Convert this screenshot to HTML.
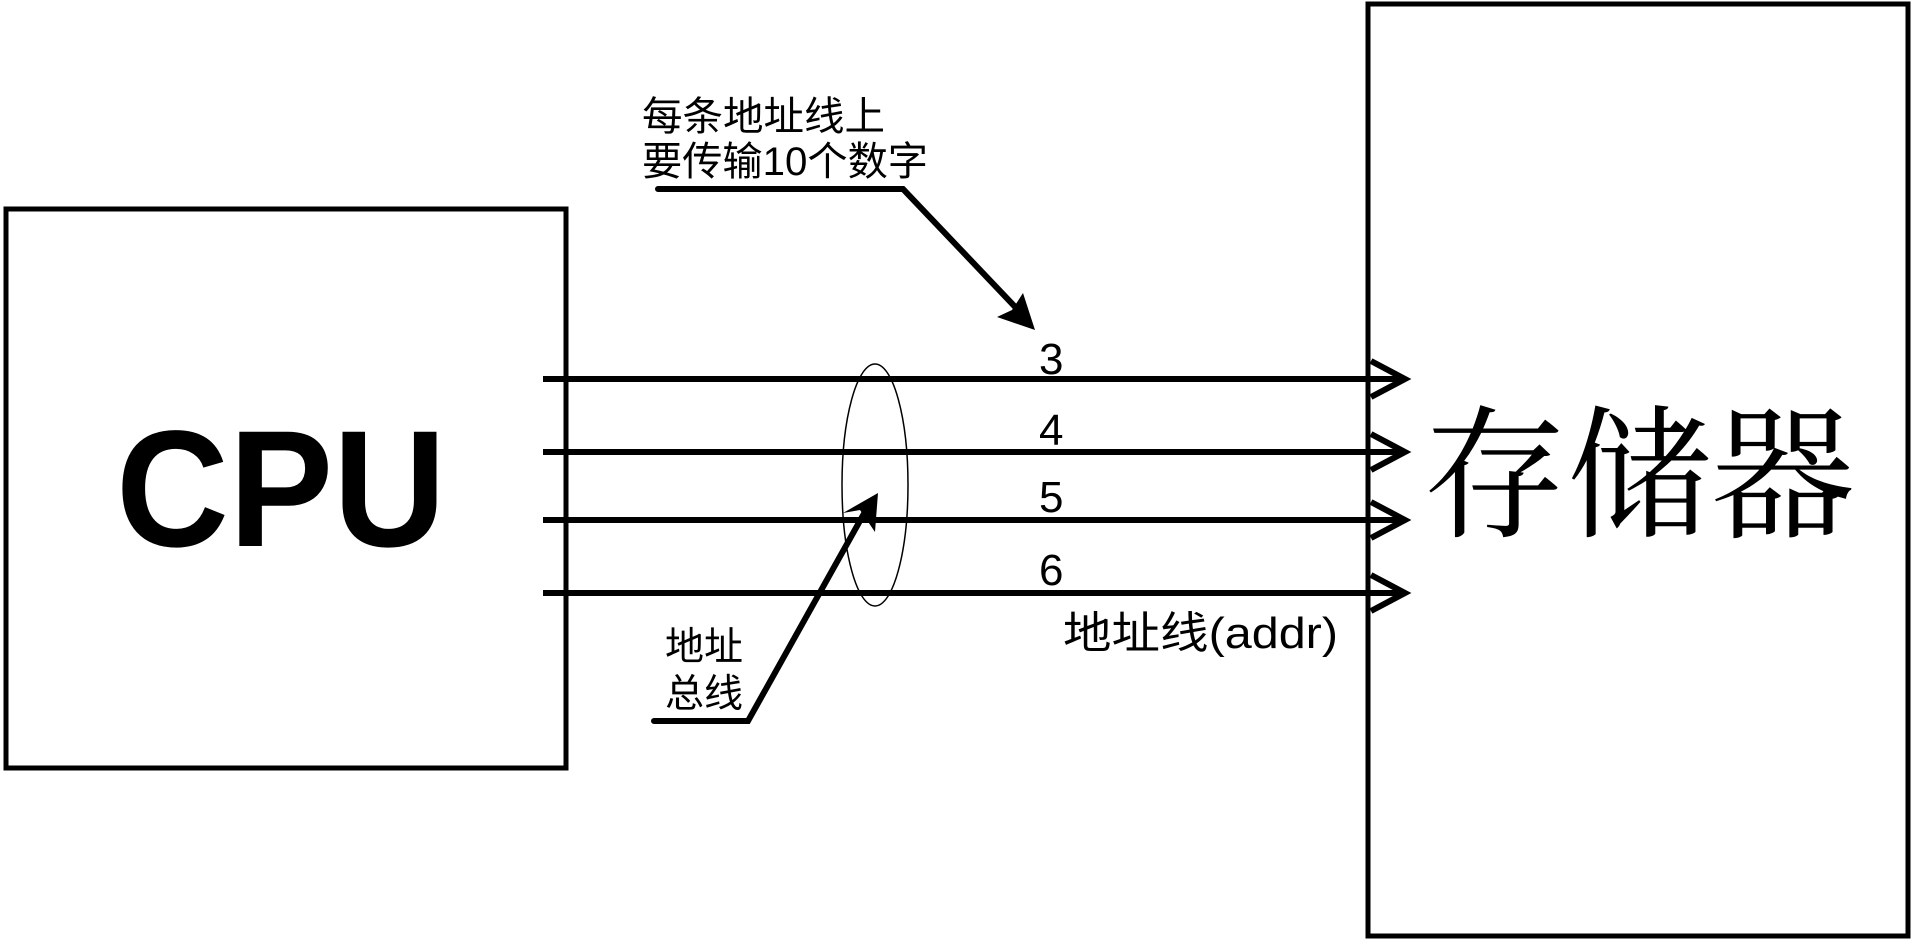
<!DOCTYPE html>
<html><head><meta charset="utf-8"><style>
html,body{margin:0;padding:0;background:#fff;}
svg{display:block;}
</style></head><body>
<svg width="1914" height="939" viewBox="0 0 1914 939" xmlns="http://www.w3.org/2000/svg">
<rect x="0" y="0" width="1914" height="939" fill="#fff"/>
<rect x="6" y="209" width="560" height="559" fill="none" stroke="#000" stroke-width="5"/>
<rect x="1368" y="4" width="540" height="932" fill="none" stroke="#000" stroke-width="5"/>
<g stroke="#000" stroke-width="6" fill="none">
<line x1="543" y1="379" x2="1404" y2="379"/>
<line x1="543" y1="452" x2="1404" y2="452"/>
<line x1="543" y1="520" x2="1404" y2="520"/>
<line x1="543" y1="593" x2="1404" y2="593"/>
<polyline points="1371,361 1405,379 1371,397"/>
<polyline points="1371,434 1405,452 1371,470"/>
<polyline points="1371,502 1405,520 1371,538"/>
<polyline points="1371,575 1405,593 1371,611"/>
</g>
<ellipse cx="875" cy="485" rx="33" ry="121" fill="none" stroke="#000" stroke-width="1.5"/>
<polyline points="658,189 903,189 1020,312" fill="none" stroke="#000" stroke-width="6" stroke-linecap="round"/>
<polygon points="1035,330 997,317 1012,310 1023,293" fill="#000"/>
<polyline points="654,721 748,721 866,510" fill="none" stroke="#000" stroke-width="6" stroke-linecap="round"/>
<polygon points="878,493 843,513 860,510 875,532" fill="#000"/>
<g font-family="'Liberation Sans','Noto Sans CJK SC',sans-serif" fill="#000">
<text x="642" y="130" font-size="40" textLength="243" lengthAdjust="spacingAndGlyphs">每条地址线上</text>
<text x="642" y="175" font-size="40" textLength="286" lengthAdjust="spacingAndGlyphs">要传输10个数字</text>
<text x="1039" y="374" font-size="44">3</text>
<text x="1039" y="445" font-size="44">4</text>
<text x="1039" y="512" font-size="44">5</text>
<text x="1039" y="585" font-size="44">6</text>
<text x="1063" y="648" font-size="44" textLength="275" lengthAdjust="spacingAndGlyphs">地址线(addr)</text>
<text x="665" y="660" font-size="39" textLength="78" lengthAdjust="spacingAndGlyphs">地址</text>
<text x="665" y="707" font-size="39" textLength="78" lengthAdjust="spacingAndGlyphs">总线</text>
<text x="116" y="546" font-size="166" font-weight="bold" textLength="330" lengthAdjust="spacingAndGlyphs">CPU</text>
</g>
<text x="1423" y="526" font-size="144" font-family="'Noto Serif CJK SC',serif" fill="#000">存储器</text>
</svg>
</body></html>
